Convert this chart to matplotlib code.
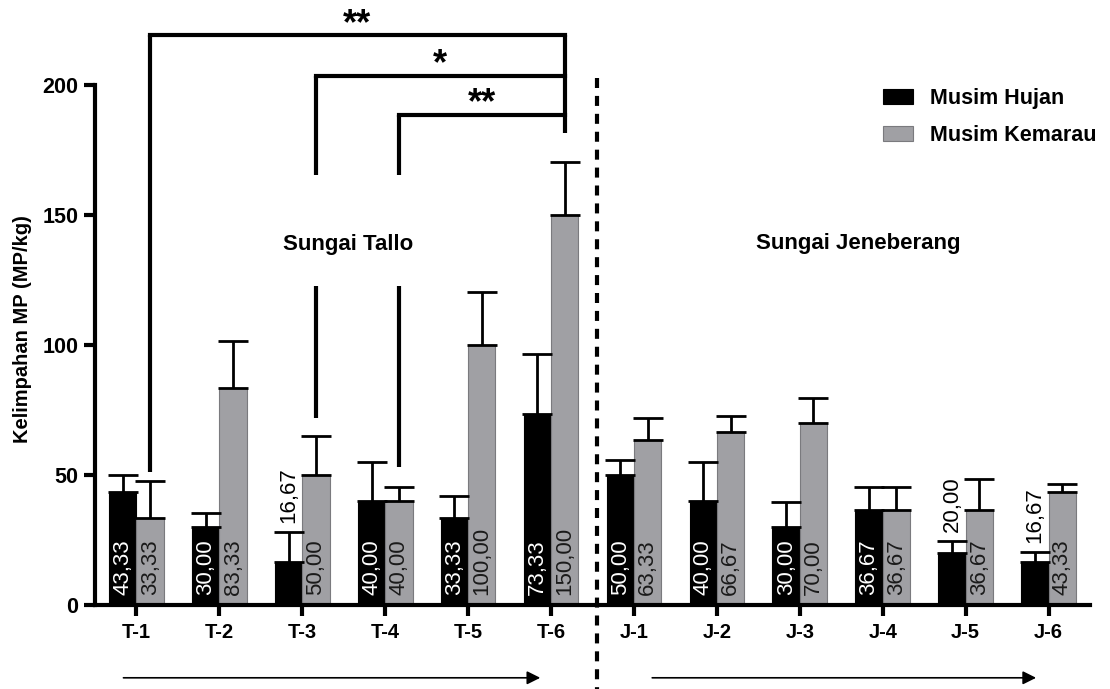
import numpy as np
import matplotlib
matplotlib.use('Agg')
import matplotlib.pyplot as plt

plt.rcParams['font.family'] = ['Liberation Sans', 'DejaVu Sans']

# DATA
sites = ['T-1', 'T-2', 'T-3', 'T-4', 'T-5', 'T-6',
         'J-1', 'J-2', 'J-3', 'J-4', 'J-5', 'J-6']
hujan = [43.33, 30.00, 16.67, 40.00, 33.33, 73.33,
         50.00, 40.00, 30.00, 36.67, 20.00, 16.67]
kemarau = [33.33, 83.33, 50.00, 40.00, 100.00, 150.00,
           63.33, 66.67, 70.00, 36.67, 36.67, 43.33]
hujan_err = [6.67, 5.5, 11.5, 14.9, 8.7, 23.1,
             5.6, 14.9, 9.7, 8.6, 4.7, 3.6]
kemarau_err = [14.4, 18.2, 14.9, 5.5, 20.5, 20.5,
               8.5, 6.1, 9.7, 8.6, 11.8, 3.2]
series_names = ['Musim Hujan', 'Musim Kemarau']
river_names = ['Sungai Tallo', 'Sungai Jeneberang']
# comparisons against T-6 (Musim Kemarau): (site index, bracket height, leg bottom, label)
comparisons = [(0, 219.2, 51.3, '**'), (2, 203.5, 71.8, '*'), (3, 188.5, 53.2, '**')]

BLACK = '#000000'
GRAY = '#a0a0a4'

fig = plt.figure(figsize=(11.1, 6.89), dpi=100)
ax = fig.add_axes([95 / 1110, 84 / 689, 995 / 1110, 520 / 689])

x = np.arange(len(sites))
w = 0.33
xh = x - w / 2
xk = x + w / 2

bh = ax.bar(xh, hujan, w, color=BLACK, edgecolor=BLACK, linewidth=0.8,
            label=series_names[0], zorder=2)
bk = ax.bar(xk, kemarau, w, color=GRAY, edgecolor='#7a7a7e', linewidth=0.8,
            label=series_names[1], zorder=2)

zeros = np.zeros(len(sites))
ax.errorbar(xh, hujan, yerr=[zeros, hujan_err], fmt='none', ecolor='black',
            elinewidth=2, capsize=10.5, capthick=2, zorder=3)
ax.errorbar(xk, kemarau, yerr=[zeros, kemarau_err], fmt='none', ecolor='black',
            elinewidth=2, capsize=10.5, capthick=2, zorder=3)

# value labels
def fmt(v):
    return f'{v:.2f}'.replace('.', ',')

for xs, vals, errs, incol in [(xh, hujan, hujan_err, 'white'),
                               (xk, kemarau, kemarau_err, '#1a1a1a')]:
    for xi, v, e in zip(xs, vals, errs):
        if v < 25:
            ax.text(xi, v + e + 3.5, fmt(v), rotation=90, ha='center',
                    va='bottom', fontsize=16, color='black', zorder=4)
        else:
            ax.text(xi, 4, fmt(v), rotation=90, ha='center', va='bottom',
                    fontsize=16, color=incol, zorder=4)

ax.set_xlim(-0.5, 11.5)
ax.set_ylim(0, 200)
ax.set_yticks([0, 50, 100, 150, 200])
ax.set_xticks(x)
ax.set_xticklabels(sites, fontsize=14.5, fontweight='bold')
for lab in ax.get_yticklabels():
    lab.set_fontsize(15.5)
    lab.set_fontweight('bold')
ax.tick_params(axis='both', width=3, length=8, direction='out', color='black')
ax.tick_params(axis='x', pad=5)
ax.tick_params(axis='y', pad=4)
for s in ['top', 'right']:
    ax.spines[s].set_visible(False)
for s in ['left', 'bottom']:
    ax.spines[s].set_linewidth(3)

fig.text(23 / 1110, 1 - 329 / 689, 'Kelimpahan MP (MP/kg)', rotation=90,
         ha='center', va='center', fontsize=14.5, fontweight='bold')

# significance brackets
ref = xk[5]
top = max(c[1] for c in comparisons)
gap_top, gap_bot = 165.4, 122.7
ax.plot([ref, ref], [top, 181.5], color='black', lw=3, clip_on=False,
        solid_capstyle='butt', zorder=5)
for idx, h, bottom, lab in comparisons:
    xl = xk[idx]
    ax.plot([xl, ref], [h, h], color='black', lw=3, clip_on=False,
            solid_capstyle='projecting', zorder=5)
    if h < 210:
        ax.plot([xl, xl], [h, gap_top], color='black', lw=3, clip_on=False,
                solid_capstyle='butt', zorder=5)
        ax.plot([xl, xl], [gap_bot, bottom], color='black', lw=3,
                clip_on=False, solid_capstyle='butt', zorder=5)
    else:
        ax.plot([xl, xl], [h, bottom], color='black', lw=3, clip_on=False,
                solid_capstyle='butt', zorder=5)
    ax.text((xl + ref) / 2, h + 0.5, lab, ha='center', va='baseline',
            fontsize=26, fontweight='bold', clip_on=False)

# river separator and labels
ax.plot([5.555, 5.555], [202.7, -33], color='black', lw=3,
        linestyle=(0, (2.4, 1.9)), clip_on=False, zorder=5)
ax.text(2.55, 138.5, river_names[0], ha='center', va='center',
        fontsize=16, fontweight='bold')
ax.text(8.7, 139, river_names[1], ha='center', va='center',
        fontsize=16, fontweight='bold')

# flow arrows
for x0, x1 in [(-0.157, 4.87), (6.22, 10.85)]:
    ax.annotate('', xy=(x1, -28), xytext=(x0, -28),
                arrowprops=dict(arrowstyle='-|>', lw=1.2, color='black',
                                mutation_scale=20, shrinkA=0, shrinkB=0),
                annotation_clip=False)

leg = ax.legend(handles=[bh, bk], loc='upper left',
                bbox_to_anchor=(883 / 1110, 1 - 88 / 689),
                bbox_transform=fig.transFigure, frameon=False,
                prop={'size': 15.5, 'weight': 'bold'}, borderpad=0,
                borderaxespad=0, handlelength=1.4, handleheight=0.65,
                handletextpad=0.8, labelspacing=0.75)

fig.savefig('out.png', dpi=100)
